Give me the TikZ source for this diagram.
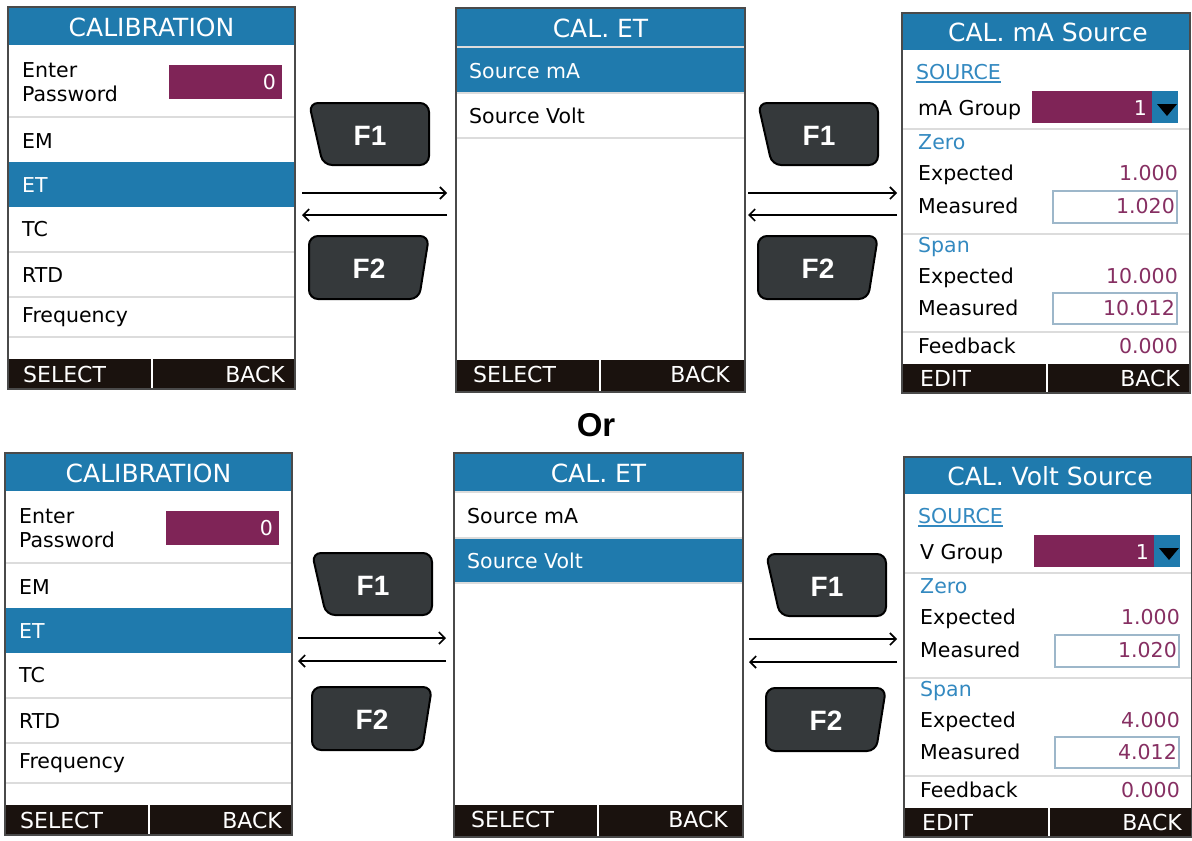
\documentclass[tikz,border=0pt]{standalone}
\usepackage{fontspec}
\setmainfont{DejaVu Sans}
\newfontfamily\arialfam{Liberation Sans}
\usepackage{tikz}
\usetikzlibrary{arrows.meta}

\definecolor{scrblue}{HTML}{1F7AAD}
\definecolor{scrmaroon}{HTML}{7F2457}
\definecolor{valmaroon}{HTML}{862F62}
\definecolor{labelblue}{HTML}{3389C0}
\definecolor{footblack}{HTML}{1A120E}
\definecolor{rowgray}{HTML}{DCDCDC}
\definecolor{keygray}{HTML}{35393B}
\definecolor{boxedge}{HTML}{9DB7CA}
\definecolor{frameedge}{HTML}{4A4A4A}

\newcommand{\rowfont}{\fontsize{20.5}{24}\selectfont}
\newcommand{\headfont}{\fontsize{25}{28}\selectfont}
\newcommand{\keyfont}{\arialfam\bfseries\fontsize{28}{30}\selectfont}

\tikzset{
  rowtext/.style={anchor=base west, inner sep=0pt, font=\rowfont, text=black},
  valtext/.style={anchor=base east, inner sep=0pt, font=\rowfont, text=valmaroon},
  labeltext/.style={anchor=base west, inner sep=0pt, font=\rowfont, text=labelblue},
  titletext/.style={anchor=base, inner sep=0pt, font=\headfont, text=white},
  foottext/.style={anchor=base west, inner sep=0pt, font=\fontsize{22}{24}\selectfont, text=white},
  rowline/.style={draw=rowgray, line width=1.5pt},
  footdiv/.style={draw=white, line width=2pt},
  scrframe/.style={draw=frameedge, line width=1.5pt},
  inbox/.style={fill=white, draw=boxedge, line width=1.2pt},
  keyshape/.style={fill=keygray, draw=black, line width=2pt, rounded corners=9pt},
  keytext/.style={inner sep=0pt, font=\keyfont, text=white},
  navarrow/.style={-{Straight Barb[length=6pt, width=12pt]}, line width=1.6pt},
  % password screen
  pics/calscreen/.style={code={
    \fill[scrblue] (0,0) rectangle (287,38);
    \fill[scrblue] (0,155) rectangle (287,200);
    \draw[rowline] (0,110) -- (287,110) (0,245) -- (287,245)
                   (0,290) -- (287,290) (0,330) -- (287,330);
    \fill[scrmaroon] (161,58) rectangle (274,92);
    \fill[footblack] (0,352) rectangle (287,382);
    \draw[footdiv] (144,352) -- (144,382);
    \node[titletext] (title) at (143.5,29) {CALIBRATION};
    \node[rowtext] (enter) at (14,70) {Enter};
    \node[rowtext] (pass) at (14,94) {Password};
    \node[valtext, text=white] (pwd) at (268,82) {0};
    \node[rowtext] (em) at (14,141) {EM};
    \node[rowtext, text=white] (et) at (14,185) {ET};
    \node[rowtext] (tc) at (14,229) {TC};
    \node[rowtext] (rtd) at (14,275) {RTD};
    \node[rowtext] (freq) at (14,315) {Frequency};
    \node[foottext] (sel) at (15,375) {SELECT};
    \node[foottext, anchor=base east] (back) at (277,375) {BACK};
    \draw[scrframe] (0,0) rectangle (287,382);
  }},
  % ET menu, args: row fills and text colours
  pics/etscreen/.style n args={4}{code={
    \fill[scrblue] (0,0) rectangle (289,39);
    \fill[#1] (0,39) rectangle (289,85);
    \fill[#3] (0,85) rectangle (289,130);
    \draw[rowline] (0,39) -- (289,39) (0,85) -- (289,85) (0,130) -- (289,130);
    \fill[footblack] (0,352) rectangle (289,384);
    \draw[footdiv] (144,352) -- (144,384);
    \node[titletext] (title) at (144.5,29) {CAL. ET};
    \node[rowtext, text=#2] (srcma) at (13,70) {Source mA};
    \node[rowtext, text=#4] (srcv) at (13,115) {Source Volt};
    \node[foottext] (sel) at (17,374) {SELECT};
    \node[foottext, anchor=base east] (back) at (274,374) {BACK};
    \draw[scrframe] (0,0) rectangle (289,384);
  }},
  % source screen, args: title, group, span expected, span measured
  pics/srcscreen/.style n args={4}{code={
    \fill[scrblue] (0,0) rectangle (288,37);
    \draw[rowline] (0,116) -- (288,116) (0,221) -- (288,221) (0,319) -- (288,319);
    \fill[scrmaroon] (130,78) rectangle (250,110);
    \fill[scrblue] (250,78) rectangle (276,110);
    \fill[black] (255,91) -- (275,91) -- (265,103) -- cycle;
    \draw[inbox] (151,178) rectangle (275,210);
    \draw[inbox] (151,280) rectangle (275,311);
    \fill[footblack] (0,351) rectangle (288,380);
    \draw[footdiv] (145,351) -- (145,380);
    \node[titletext] (title) at (146,28) {#1};
    \node[labeltext] (src) at (14,66) {SOURCE};
    \draw[labelblue, line width=1.5pt] ([yshift=-3pt]src.base west) -- ([yshift=-3pt]src.base east);
    \node[rowtext] (grp) at (16,102) {#2};
    \node[valtext, text=white] (grpval) at (245,102) {1};
    \node[labeltext] (zero) at (16,136) {Zero};
    \node[rowtext] (zexp) at (16,167) {Expected};
    \node[valtext] (zexpval) at (276,167) {1.000};
    \node[rowtext] (zmeas) at (16,200) {Measured};
    \node[valtext] (zmeasval) at (273,200) {1.020};
    \node[labeltext] (span) at (16,239) {Span};
    \node[rowtext] (sexp) at (16,270) {Expected};
    \node[valtext] (sexpval) at (276,270) {#3};
    \node[rowtext] (smeas) at (16,302) {Measured};
    \node[valtext] (smeasval) at (273,302) {#4};
    \node[rowtext] (fb) at (16,340) {Feedback};
    \node[valtext] (fbval) at (276,340) {0.000};
    \node[foottext] (edit) at (18,373) {EDIT};
    \node[foottext, anchor=base east] (back) at (278,373) {BACK};
    \draw[scrframe] (0,0) rectangle (288,380);
  }},
  pics/fonekey/.style={code={
    \draw[keyshape] (60,0) -- (120,0) -- (120,62) -- (14,62) -- (0,0) -- cycle;
    \node[keytext] (lbl) at (61,33) {F1};
  }},
  pics/ftwokey/.style={code={
    \draw[keyshape] (60,0) -- (120,0) -- (110,63) -- (0,63) -- (0,0) -- cycle;
    \node[keytext] (lbl) at (60,33) {F2};
  }}
}

\begin{document}
\begin{tikzpicture}[x=1pt, y=-1pt]
  \useasboundingbox (0,0) rectangle (1192,841);

  % mA route
  \pic (calA) at (8,7) {calscreen};
  \pic (etA) at (456,8) {etscreen={scrblue}{white}{white}{black}};
  \pic (srcA) at (902,13) {srcscreen={CAL. mA Source}{mA Group}{10.000}{10.012}};
  \pic (keyA1) at (309,103) {fonekey};
  \pic (keyA2) at (309,236) {ftwokey};
  \pic (keyB1) at (758,103) {fonekey};
  \pic (keyB2) at (758,236) {ftwokey};
  \coordinate (goA1) at (302,193);
  \coordinate (goA2) at (447,193);
  \coordinate (bkA1) at (447,215);
  \coordinate (bkA2) at (302,215);
  \coordinate (goB1) at (748,193);
  \coordinate (goB2) at (897,193);
  \coordinate (bkB1) at (897,215);
  \coordinate (bkB2) at (748,215);
  \draw[navarrow] (goA1) -- (goA2);
  \draw[navarrow] (bkA1) -- (bkA2);
  \draw[navarrow] (goB1) -- (goB2);
  \draw[navarrow] (bkB1) -- (bkB2);

  \node[font=\arialfam\bfseries\fontsize{33}{36}\selectfont] (ortext) at (596,425) {Or};

  % volt route
  \pic (calC) at (5,453) {calscreen};
  \pic (etC) at (454,453) {etscreen={white}{black}{scrblue}{white}};
  \pic (srcC) at (904,457) {srcscreen={CAL. Volt Source}{V Group}{4.000}{4.012}};
  \pic (keyC1) at (312,553) {fonekey};
  \pic (keyC2) at (312,687) {ftwokey};
  \pic (keyD1) at (766,554) {fonekey};
  \pic (keyD2) at (766,688) {ftwokey};
  \coordinate (goC1) at (298,638);
  \coordinate (goC2) at (446,638);
  \coordinate (bkC1) at (446,661);
  \coordinate (bkC2) at (298,661);
  \coordinate (goD1) at (749,639);
  \coordinate (goD2) at (897,639);
  \coordinate (bkD1) at (897,662);
  \coordinate (bkD2) at (749,662);
  \draw[navarrow] (goC1) -- (goC2);
  \draw[navarrow] (bkC1) -- (bkC2);
  \draw[navarrow] (goD1) -- (goD2);
  \draw[navarrow] (bkD1) -- (bkD2);
\end{tikzpicture}
\end{document}
